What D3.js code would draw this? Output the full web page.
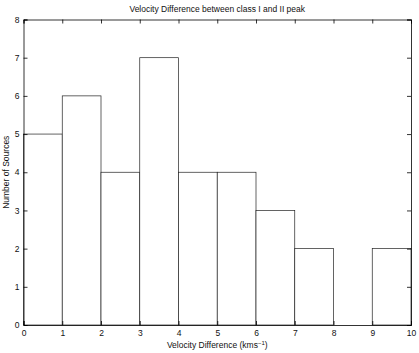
<!DOCTYPE html>
<html>
<head>
<meta charset="utf-8">
<script src="https://cdn.jsdelivr.net/npm/d3@7"></script>
<style>
  body { margin: 0; background: #fff; }
  text { font-family: "Liberation Sans", Arial, sans-serif; font-size: 8.5px; fill: #111; }
</style>
</head>
<body>
<div id="chart"></div>
<script>
// histogram bins and counts
const binStarts = [0, 1, 2, 3, 4, 5, 6, 7, 8, 9];
const counts = [5, 6, 4, 7, 4, 4, 3, 2, 0, 2];
const xTicks = [0, 1, 2, 3, 4, 5, 6, 7, 8, 9, 10];
const yTicks = [0, 1, 2, 3, 4, 5, 6, 7, 8];

const width = 419;
const height = 353;
const margin = {left: 23.5, right: 8, top: 19.5, bottom: 28};

const svg = d3.select('#chart').append('svg')
    .attr('width', width)
    .attr('height', height);

const x = d3.scaleLinear().domain([0, 10]).range([margin.left, width - margin.right]);
const y = d3.scaleLinear().domain([0, 8]).range([height - margin.bottom, margin.top]);

// bars
svg.append('g').selectAll('rect')
    .data(binStarts.map((b, i) => ({b: b, c: counts[i]})).filter(d => d.c > 0))
    .enter()
    .append('rect')
    .attr('x', d => x(d.b))
    .attr('y', d => y(d.c))
    .attr('width', d => x(d.b + 1) - x(d.b))
    .attr('height', d => y(0) - y(d.c))
    .attr('fill', '#fff')
    .attr('stroke', '#222')
    .attr('stroke-width', 0.7);

// axes with inward ticks on all four sides
const tl = 4;
svg.append('g').attr('transform', `translate(0,${y(0)})`)
    .call(d3.axisBottom(x).tickValues(xTicks).tickSize(-tl).tickPadding(5).tickFormat(d3.format('d')));
svg.append('g').attr('transform', `translate(0,${y(8)})`)
    .call(d3.axisTop(x).tickValues(xTicks).tickSize(-tl).tickFormat(''));
svg.append('g').attr('transform', `translate(${x(0)},0)`)
    .call(d3.axisLeft(y).tickValues(yTicks).tickSize(-tl).tickPadding(4).tickFormat(d3.format('d')));
svg.append('g').attr('transform', `translate(${x(10)},0)`)
    .call(d3.axisRight(y).tickValues(yTicks).tickSize(-tl).tickFormat(''));

svg.selectAll('.domain').attr('stroke', '#000').attr('stroke-width', 0.8);
svg.selectAll('.tick line').attr('stroke', '#000').attr('stroke-width', 0.8);
svg.selectAll('.tick text').style('font-family', '"Liberation Sans", Arial, sans-serif').style('font-size', '8.5px').attr('fill', '#111');

// titles
svg.append('text')
    .attr('x', (x(0) + x(10)) / 2)
    .attr('y', 12)
    .attr('text-anchor', 'middle')
    .text('Velocity Difference between class I and II peak');

const xl = svg.append('text')
    .attr('x', (x(0) + x(10)) / 2)
    .attr('y', 348)
    .attr('text-anchor', 'middle');
xl.append('tspan').text('Velocity Difference (kms');
xl.append('tspan').attr('dy', -3).style('font-size', '6px').text('\u22121');
xl.append('tspan').attr('dy', 3).text(')');

svg.append('text')
    .attr('transform', `translate(9,${(y(0) + y(8)) / 2}) rotate(-90)`)
    .attr('text-anchor', 'middle')
    .text('Number of Sources');
</script>
</body>
</html>
